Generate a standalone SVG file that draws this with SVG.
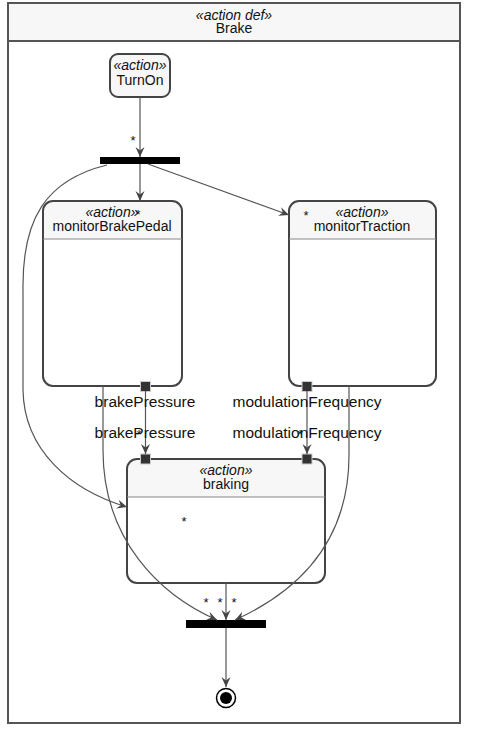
<svg xmlns="http://www.w3.org/2000/svg" width="477" height="734" viewBox="0 0 477 734">
<style>
text{font-family:"Liberation Sans",Arial,sans-serif;fill:#111;text-anchor:middle}
.st{font-style:italic;font-size:14px}
.nm{font-size:14px}
.lbl{font-size:15.5px}
.mul{font-size:13px}
.node{stroke:#444;stroke-width:2}
.sep{stroke:#888;stroke-width:1.2}
.edge{fill:none;stroke:#555;stroke-width:1.2}
.port{fill:#333;stroke:#ccc;stroke-width:1}
</style>
<defs>
<marker id="arr" viewBox="0 0 10 10" refX="10" refY="5" markerWidth="10" markerHeight="10" markerUnits="userSpaceOnUse" orient="auto">
<path d="M0,0.5 L10,5 L0,9.5 L3.5,5 z" fill="#444"/>
</marker>
</defs>
<g id="frame">
<rect x="8" y="3" width="452" height="720" fill="#fff" stroke="#555" stroke-width="2"/>
<rect x="9" y="4" width="450" height="37" fill="#f7f7f7"/>
<line x1="8" y1="41" x2="460" y2="41" stroke="#555" stroke-width="2"/>
<text class="st" x="234" y="20">«action def»</text>
<text class="nm" x="234" y="33">Brake</text>
</g>
<g id="TurnOn">
<rect class="node" x="110" y="54" width="60" height="43" rx="8" fill="#f7f7f7"/>
<text class="st" x="140" y="70">«action»</text>
<text class="nm" x="140" y="85">TurnOn</text>
</g>
<g id="fork1">
<rect x="100" y="157" width="80" height="7" fill="#000"/>
</g>
<g id="monitorBrakePedal">
<path d="M43,239 L43,211 Q43,201 53,201 L172,201 Q182,201 182,211 L182,239 z" fill="#f7f7f7"/>
<rect class="node" x="43" y="201" width="139" height="185" rx="10" fill="none"/>
<line class="sep" x1="43" y1="239" x2="182" y2="239"/>
<text class="st" x="112" y="217">«action»</text>
<text class="nm" x="112" y="231">monitorBrakePedal</text>
<rect class="port" x="140.5" y="381.5" width="10" height="10"/>
</g>
<g id="monitorTraction">
<path d="M289,239 L289,211 Q289,201 299,201 L426,201 Q436,201 436,211 L436,239 z" fill="#f7f7f7"/>
<rect class="node" x="289" y="201" width="147" height="185" rx="10" fill="none"/>
<line class="sep" x1="289" y1="239" x2="436" y2="239"/>
<text class="st" x="362" y="217">«action»</text>
<text class="nm" x="362" y="231">monitorTraction</text>
<rect class="port" x="302" y="381.5" width="10" height="10"/>
</g>
<g id="braking">
<path d="M127,497 L127,469 Q127,459 137,459 L315,459 Q325,459 325,469 L325,497 z" fill="#f7f7f7"/>
<rect class="node" x="127" y="459" width="198" height="124" rx="10" fill="none"/>
<line class="sep" x1="127" y1="497" x2="325" y2="497"/>
<text class="st" x="226" y="475">«action»</text>
<text class="nm" x="226" y="489">braking</text>
<rect class="port" x="140.5" y="454" width="10" height="10"/>
<rect class="port" x="302" y="454" width="10" height="10"/>
</g>
<g id="fork2">
<rect x="186" y="620" width="80" height="8" fill="#000"/>
</g>
<g id="final">
<circle cx="226" cy="698" r="9.5" fill="#fff" stroke="#000" stroke-width="1.5"/>
<circle cx="226" cy="698" r="6" fill="#000"/>
</g>
<g id="connectors">
<line class="edge" x1="140" y1="97" x2="140" y2="157" marker-end="url(#arr)"/>
<line class="edge" x1="140" y1="164" x2="140" y2="201" marker-end="url(#arr)"/>
<line class="edge" x1="148" y1="164" x2="289" y2="215" marker-end="url(#arr)"/>
<path class="edge" d="M107,165 C45,180 22,220 23,290 L23,390 C24,450 70,490 127,507" marker-end="url(#arr)"/>
<path class="edge" d="M103,386 L103,450 C103,540 160,595 217,620" marker-end="url(#arr)"/>
<path class="edge" d="M349,386 L349,455 C349,548 290,595 235,620" marker-end="url(#arr)"/>
<line class="edge" x1="226" y1="583" x2="226" y2="620" marker-end="url(#arr)"/>
<line class="edge" x1="226" y1="628" x2="226" y2="687" marker-end="url(#arr)"/>
<line class="edge" x1="145.5" y1="391" x2="145.5" y2="454" marker-end="url(#arr)"/>
<line class="edge" x1="307" y1="391" x2="307" y2="454" marker-end="url(#arr)"/>
<text class="mul" x="133" y="145">*</text>
<text class="mul" x="138" y="219">*</text>
<text class="mul" x="306" y="220">*</text>
<text class="mul" x="139" y="439">*</text>
<text class="mul" x="300" y="439">*</text>
<text class="mul" x="184" y="526">*</text>
<text class="mul" x="206" y="607">*</text>
<text class="mul" x="220" y="607">*</text>
<text class="mul" x="234" y="607">*</text>
<text class="lbl" x="145" y="407">brakePressure</text>
<text class="lbl" x="145" y="438">brakePressure</text>
<text class="lbl" x="307" y="407">modulationFrequency</text>
<text class="lbl" x="307" y="438">modulationFrequency</text>
</g>
</svg>
